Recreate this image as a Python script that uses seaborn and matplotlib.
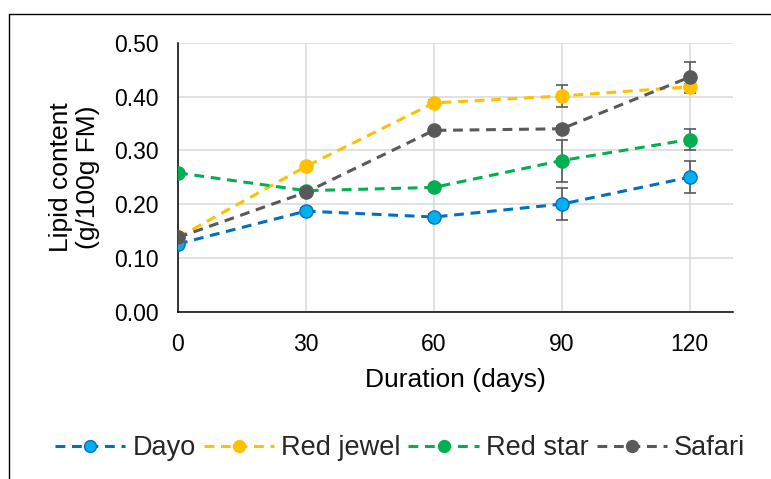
import matplotlib
matplotlib.use("Agg")
import matplotlib.pyplot as plt
import seaborn as sns
import pandas as pd
from matplotlib.lines import Line2D

# ---- data ----
days = [0, 30, 60, 90, 120]
series_names = ["Dayo", "Red jewel", "Red star", "Safari"]
dayo = [0.126, 0.187, 0.176, 0.200, 0.250]
red_jewel = [0.138, 0.270, 0.388, 0.401, 0.418]
red_star = [0.258, 0.225, 0.231, 0.281, 0.320]
safari = [0.138, 0.222, 0.337, 0.340, 0.436]
dayo_err = [0.005, 0.005, 0.005, 0.030, 0.030]
red_jewel_err = [0.005, 0.005, 0.005, 0.020, 0.005]
red_star_err = [0.005, 0.005, 0.005, 0.039, 0.020]
safari_err = [0.005, 0.005, 0.005, 0.005, 0.029]
y_ticks = [0.0, 0.1, 0.2, 0.3, 0.4, 0.5]
y_ticklabels = ["0.00", "0.10", "0.20", "0.30", "0.40", "0.50"]

values = [dayo, red_jewel, red_star, safari]
errors = [dayo_err, red_jewel_err, red_star_err, safari_err]
line_colors = ["#0070C0", "#FFC000", "#00B050", "#595959"]
fill_colors = ["#00B0F0", "#FFC000", "#00B050", "#595959"]

sns.set_style("white")
plt.rcParams["font.family"] = ["Liberation Sans", "DejaVu Sans"]

fig = plt.figure(figsize=(7.71, 4.79), dpi=100)
ax = fig.add_axes([178 / 771, 1 - 311.7 / 479, (732.7 - 178) / 771, (311.7 - 42.7) / 479])

dash = (0, (3.2, 2.2))
lw = 2.2
ms = 9.5
err_color = "#595959"

handles = []
for name, vals, errs, lc, fc in zip(series_names, values, errors, line_colors, fill_colors):
    ax.errorbar(days, vals, yerr=errs, fmt="none", ecolor=err_color,
                elinewidth=1.2, capsize=4.3, capthick=1.2, zorder=1.5)
    df = pd.DataFrame({"Duration": days, "Lipid": vals})
    sns.lineplot(data=df, x="Duration", y="Lipid", ax=ax, color=lc, linewidth=lw,
                 linestyle=dash, marker="o", markersize=ms, markerfacecolor=fc,
                 markeredgecolor=lc, markeredgewidth=1.0, errorbar=None,
                 legend=False, zorder=2)
    handles.append(Line2D([], [], color=lc, linewidth=lw, linestyle=dash, marker="o",
                          markersize=ms * 0.9, markerfacecolor=fc, markeredgecolor=lc,
                          markeredgewidth=1.0, label=name))

ax.set_xlim(0, 130.1)
ax.set_ylim(0, 0.5)
ax.set_xticks(days)
ax.set_xticklabels([str(d) for d in days])
ax.set_yticks(y_ticks)
ax.set_yticklabels(y_ticklabels)
ax.tick_params(axis="both", length=0, labelsize=16.5, colors="black")
ax.tick_params(axis="x", pad=15)
ax.tick_params(axis="y", pad=14)

ax.grid(True, color="#D9D9D9", linewidth=1.1)
ax.set_axisbelow(True)
for s in ["top", "right"]:
    ax.spines[s].set_visible(False)
for s in ["left", "bottom"]:
    ax.spines[s].set_color("black")
    ax.spines[s].set_linewidth(1.1)
    ax.spines[s].set_zorder(1.2)

ax.set_xlabel("Duration (days)", fontsize=19, labelpad=9, color="black")
ax.set_ylabel("Lipid content\n(g/100g FM)", fontsize=19, labelpad=10,
              color="black", linespacing=1.15)

fig.legend(handles=handles, loc="center", bbox_to_anchor=(400 / 771, 1 - 448 / 479),
           ncol=4, frameon=False, fontsize=19.5, handlelength=2.6,
           handletextpad=0.25, columnspacing=0.3, borderaxespad=0)

# outer frame (top and left edges visible)
fig.add_artist(Line2D([9 / 771, 9 / 771], [0, 1 - 14 / 479], color="black",
                      linewidth=1.0, transform=fig.transFigure))
fig.add_artist(Line2D([9 / 771, 1], [1 - 14 / 479, 1 - 14 / 479], color="black",
                      linewidth=1.0, transform=fig.transFigure))

fig.savefig("out.png", dpi=100)
